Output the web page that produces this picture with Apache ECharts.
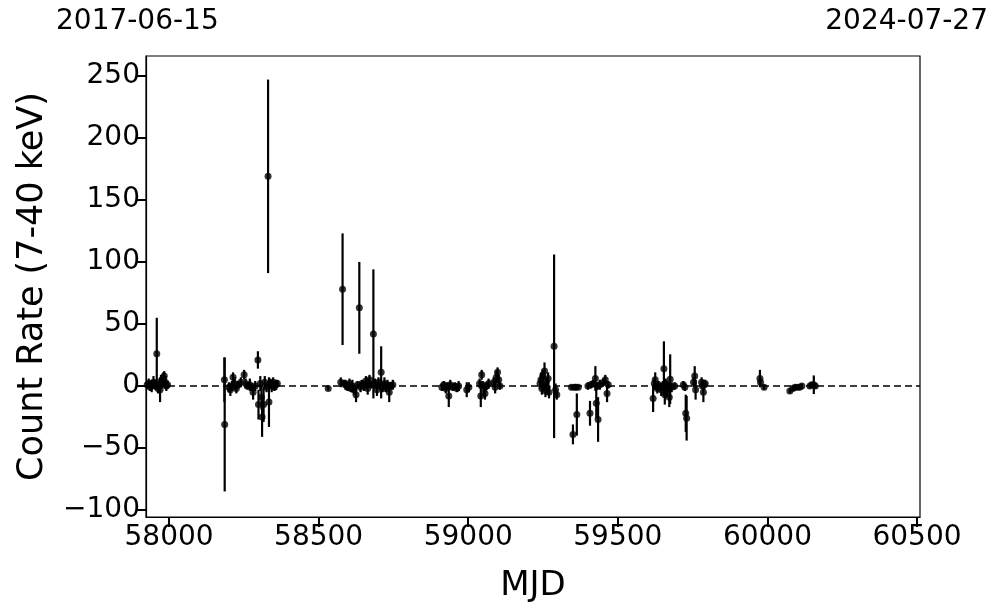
<!DOCTYPE html>
<html>
<head>
<meta charset="utf-8">
<script src="https://cdn.jsdelivr.net/npm/echarts@6/dist/echarts.min.js"></script>
<style>
html,body{margin:0;padding:0;background:#fff;}
#chart{width:997px;height:613px;}
</style>
</head>
<body>
<div id="chart"></div>
<script>
// ---- data (MJD, count rate, 1-sigma error) ----
const mjd = [
  57927,57932,57937,57942,57948,57953,57959,57963,57966,57970,57973,57977,57981,57984,57988,57991,57995,
  58185,58186,58200,58205,58210,58214,58219,58225,58231,58240,58251,58256,58262,58270,58276,58281,58288,58297,58299,58305,58309,58311,58316,58320,58326,58331,58334,58338,58343,58348,58352,58357,58362,
  58532,58574,58580,58585,58590,58597,58603,58608,58613,58618,58625,58630,58636,58640,58645,58652,58658,58664,58670,58675,58683,58688,58695,58700,58705,58709,58714,58720,58725,58730,58736,58742,58748,
  58912,58918,58925,58930,58935,58940,58948,58955,58962,58968,58995,59002,59038,59042,59045,59048,59053,59056,59062,59068,59085,59090,59094,59098,59102,59106,
  59240,59243,59246,59249,59252,59255,59258,59261,59264,59267,59270,59287,59292,59296,59345,59350,59355,59360,59363,59368,59400,59407,59410,59418,59425,59428,59432,59434,59440,59452,59458,59464,59468,
  59618,59622,59625,59628,59632,59636,59645,59650,59654,59657,59660,59664,59668,59672,59675,59680,59690,59719,59724,59727,59730,59753,59757,59760,59780,59783,59786,59789,59792,
  59975,59977,59989,60075,60085,60092,60100,60108,60115,60142,60148,60155,60160
];
const rate = [
  1,2,-1,0,3,1,26,-2,0,-3,4,2,6,8,3,0,1,
  5,-31,-1,-3,0,7,2,-2,1,3,9,2,0,1,-1,-5,0,21,-15,2,-9,-25,-15,3,-1,169,-13,2,0,3,-1,1,2,
  -2,3,78,2,1,-1,2,-2,0,-3,-7,1,63,-1,2,0,4,-2,5,1,42,2,-3,3,0,11,-1,2,-2,1,-5,0,1,
  -1,1,-2,0,-8,1,-1,0,-2,0,-3,-1,2,-8,9,1,-2,-6,0,2,3,-1,7,11,5,0,
  2,5,-2,8,0,12,-4,3,-1,6,-5,32,-3,-7,-1,-39,-1,-1,-23,-1,0,-22,1,2,6,-14,0,-27,1,3,5,-6,1,
  -10,2,5,0,-2,1,-3,0,14,-7,2,-3,0,-9,5.5,-1,0,1,-1,-22,-26,3,8,-3,3,0,-5,1,2,
  6,3,-1,-4,-2,-1,-1,-1,0,0,1,1,0
];
const rateErr = [
  3,4,3,5,5,4,29,4,4,10,5,4,5,4,5,4,3,
  18,54,4,5,4,4,5,4,3,4,4,4,3,5,3,6,4,7,12,6,10,16,14,5,4,78,20,4,5,4,3,4,3,
  1.5,4,45,3,4,3,4,3,5,4,6,3,37,4,3,4,4,5,4,3,52,4,5,4,3,21,4,5,3,4,8,3,4,
  3,3,4,3,9,4,3,3,3,4,6,4,4,9,4,3,4,5,3,4,4,5,5,4,4,3,
  4,6,5,5,4,7,5,4,6,5,5,74,5,4,2,8,2,2,17,2,3,10,3,3,10,12,3,18,4,3,4,7,3,
  11,4,6,3,4,3,5,4,22,8,4,6,3,8,20,4,3,3,3,15,18,4,8,8,4,3,8,4,3,
  7,3,2,2,2,2,2,2,2,2,2,7.5,2
];
const xTicks = [58000, 58500, 59000, 59500, 60000, 60500];
const yTicks = [-100, -50, 0, 50, 100, 150, 200, 250];
const dateStart = '2017-06-15';
const dateEnd = '2024-07-27';

const points = mjd.map((m, i) => [m, rate[i], rateErr[i]]);
const FONT = 'DejaVu Sans';
const minusFmt = v => String(v).replace('-', '\u2212');

const chart = echarts.init(document.getElementById('chart'), null, {renderer: 'canvas'});
chart.setOption({
  animation: false,
  backgroundColor: '#fff',
  textStyle: {fontFamily: FONT},
  grid: {left: 146, top: 56, right: 77, bottom: 96, show: true, borderColor: '#000', borderWidth: 1.2, backgroundColor: 'transparent'},
  graphic: [
    {type: 'text', left: 56, top: 8, style: {text: dateStart, font: '28px "DejaVu Sans"', fill: '#000'}},
    {type: 'text', right: 9, top: 8, style: {text: dateEnd, font: '28px "DejaVu Sans"', fill: '#000'}}
  ],
  xAxis: {
    type: 'value', min: 57923, max: 60510,
    name: 'MJD', nameLocation: 'middle', nameGap: 52,
    nameTextStyle: {fontSize: 34, color: '#000', fontFamily: FONT},
    axisLine: {show: true, onZero: false, lineStyle: {color: '#000', width: 1.2}},
    axisTick: {show: true, length: 10, lineStyle: {color: '#000', width: 2}, customValues: xTicks},
    axisLabel: {fontSize: 28, color: '#000', margin: 7, fontFamily: FONT, customValues: xTicks, formatter: minusFmt},
    splitLine: {show: false}
  },
  yAxis: {
    type: 'value', min: -105.6, max: 266,
    name: 'Count Rate (7-40 keV)', nameLocation: 'middle', nameGap: 96, nameRotate: 90,
    nameTextStyle: {fontSize: 35, color: '#000', fontFamily: FONT},
    axisLine: {show: true, onZero: false, lineStyle: {color: '#000', width: 1.2}},
    axisTick: {show: true, length: 10, lineStyle: {color: '#000', width: 2}, customValues: yTicks},
    axisLabel: {fontSize: 28, color: '#000', margin: 6, fontFamily: FONT, customValues: yTicks, formatter: minusFmt},
    splitLine: {show: false}
  },
  series: [
    {
      type: 'custom',
      z: 2,
      data: points,
      renderItem: function (params, api) {
        const x = api.value(0), y = api.value(1), e = api.value(2);
        const p1 = api.coord([x, y - e]);
        const p2 = api.coord([x, y + e]);
        return {type: 'line', shape: {x1: p1[0], y1: p1[1], x2: p2[0], y2: p2[1]}, style: {stroke: '#000', lineWidth: 2.2}};
      },
      markLine: {
        silent: true, symbol: 'none', label: {show: false}, z: 1,
        lineStyle: {color: '#000', type: [7, 4], width: 1.5},
        data: [{yAxis: 0}]
      }
    },
    {
      type: 'scatter',
      z: 3,
      data: points.map(p => [p[0], p[1]]),
      symbol: 'circle', symbolSize: 7,
      itemStyle: {color: '#000'}
    }
  ]
});
</script>
</body>
</html>
